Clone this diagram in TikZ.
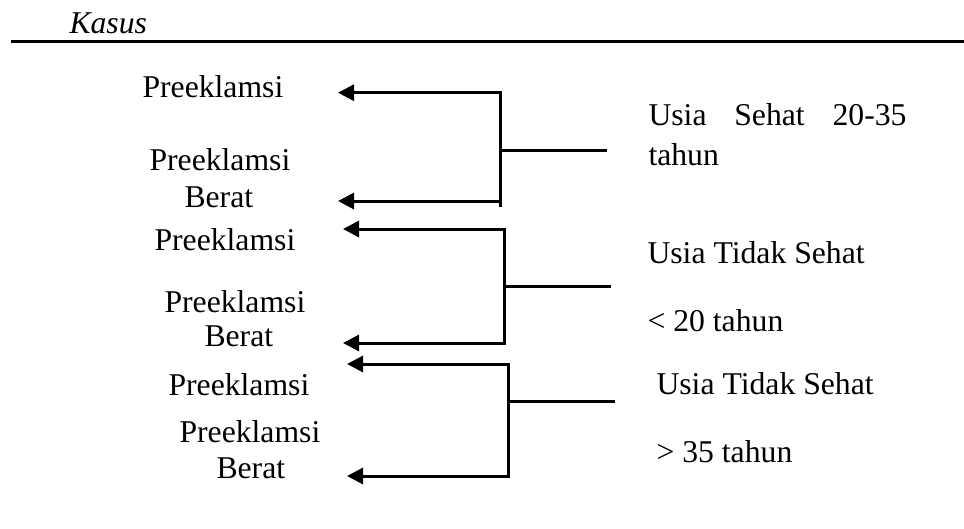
\documentclass[tikz,border=0pt]{standalone}
\usepackage{fontspec}
\setmainfont{Liberation Serif}
\usetikzlibrary{arrows.meta}
\begin{document}
\begin{tikzpicture}[x=1pt,y=-1pt,line width=3pt,
  lbl/.style={anchor=base west,inner sep=0pt,font=\fontsize{31.7}{38}\selectfont},
  tipL/.tip={Triangle[length=16pt,width=16pt]},
  branch/.style={tipL-tipL},
  leftarr/.style={tipL-}]
\useasboundingbox (0,0) rectangle (964,528);

% heading and rule
\node[lbl,font=\fontsize{31.7}{38}\selectfont\itshape] (kasus) at (68,33) {Kasus};
\coordinate (rs) at (11,41.7);
\coordinate (re) at (964,41.7);
\draw[line width=3.2pt] (rs) -- (re);

% group 1
\node[lbl] (p1) at (141,97) {Preeklamsi};
\node[lbl] (p2) at (148,170) {Preeklamsi};
\node[lbl] (b2) at (183,207) {Berat};
\node[lbl] (u1) at (647,125) {\hbox to 258pt{Usia\hfil Sehat\hfil 20-35}};
\node[lbl] (u1b) at (647,165) {tahun};
\coordinate (t1a) at (338,92.7);
\coordinate (t1b) at (338,201);
\coordinate (c1t) at (500,92.7);
\coordinate (c1b) at (500,201);
\coordinate (c1e) at (500,207);
\coordinate (c1m) at (500,150);
\coordinate (s1) at (607,150);
\draw[leftarr] (t1a) -- (c1t) -- (c1e);
\draw[leftarr] (t1b) -- (c1b);
\draw (c1m) -- (s1);

% group 2
\node[lbl] (p3) at (153,250) {Preeklamsi};
\node[lbl] (p4) at (163,312) {Preeklamsi};
\node[lbl] (b4) at (203,346) {Berat};
\node[lbl] (u2) at (646,263) {Usia Tidak Sehat};
\node[lbl] (u2b) at (646,331) {< 20 tahun};
\coordinate (t2a) at (343,229);
\coordinate (t2b) at (343,343);
\coordinate (c2t) at (504,229);
\coordinate (c2b) at (504,343);
\coordinate (c2m) at (504,286);
\coordinate (s2) at (611,286);
\draw[branch] (t2a) -- (c2t) -- (c2b) -- (t2b);
\draw (c2m) -- (s2);

% group 3
\node[lbl] (p5) at (167,395) {Preeklamsi};
\node[lbl] (p6) at (178,442) {Preeklamsi};
\node[lbl] (b6) at (215,478) {Berat};
\node[lbl] (u3) at (655,394) {Usia Tidak Sehat};
\node[lbl] (u3b) at (655,462) {> 35 tahun};
\coordinate (t3a) at (347,364);
\coordinate (t3b) at (347,476);
\coordinate (c3t) at (508,364);
\coordinate (c3b) at (508,476);
\coordinate (c3m) at (508,401);
\coordinate (s3) at (615,401);
\draw[branch] (t3a) -- (c3t) -- (c3b) -- (t3b);
\draw (c3m) -- (s3);
\end{tikzpicture}
\end{document}
